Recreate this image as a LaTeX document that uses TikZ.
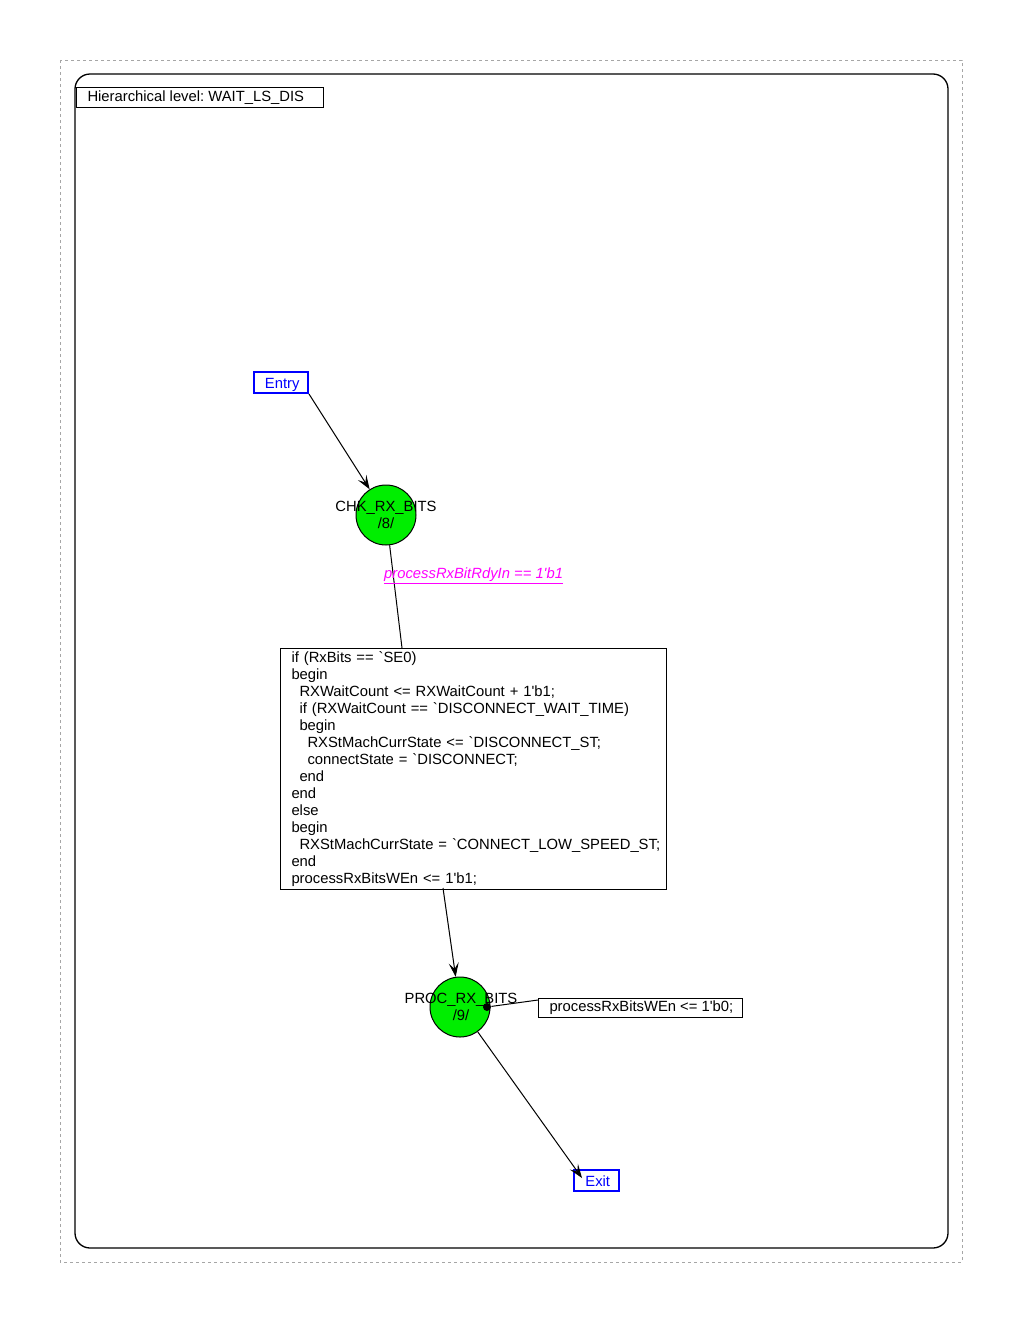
\documentclass[tikz,border=0pt]{standalone}
\usepackage{fontspec}
\usepackage{xcolor}
\usepackage{tikz}
\usetikzlibrary{arrows.meta,calc}
\newfontfamily\diafont{Liberation Sans}
\definecolor{stategreen}{RGB}{0,238,0}
\definecolor{condmagenta}{RGB}{255,0,255}
\definecolor{portblue}{RGB}{0,0,255}

\begin{document}
\frenchspacing
\begin{tikzpicture}[x=1pt, y=-1pt, line width=1pt, font=\diafont\fontsize{14.8}{17}\selectfont,
  >={Stealth[length=14pt,width=10pt,inset=6pt]}]
\useasboundingbox (0,0) rectangle (1020,1320);
\draw [gray!70, dash pattern=on 3pt off 3pt] (60,60) rectangle (962,1262);
\draw [line width=1.3pt, rounded corners=15pt] (75,74) rectangle (948,1248);
\node [draw, anchor=north west, inner xsep=11pt, inner ysep=0pt, minimum height=20pt] (level) at (76,87) {\makebox[225pt][l]{Hierarchical level: WAIT\_LS\_DIS}};

% entry / exit ports
\node [draw=portblue, line width=2pt, text=portblue, minimum width=54pt, minimum height=21pt, inner sep=0pt] (entry) at (281,382.5) {\raisebox{-2pt}[\height][\depth]{\,Entry}};
\node [draw=portblue, line width=2pt, text=portblue, minimum width=45pt, minimum height=21pt, inner sep=0pt] (exit) at (596.5,1180.5) {\raisebox{-1pt}[\height][\depth]{\,Exit}};

% states
\node [circle, draw, fill=stategreen, minimum size=60pt, inner sep=0pt] (chk) at (386,515) {};
\node [align=center] (chklabel) at (386,515) {CHK\_RX\_BITS\\/8/};
\node [circle, draw, fill=stategreen, minimum size=60pt, inner sep=0pt] (proc) at (460,1007) {};
\node [align=center] (proclabel) at (461,1007) {PROC\_RX\_BITS\\/9/};

% action of the transition
\node [draw, anchor=north west, align=left, text width=364pt, inner xsep=11pt, inner ysep=3pt] (act) at (280,648)
  {if (RxBits == `SE0)\\
   begin\\
   \hspace*{8pt}RXWaitCount <= RXWaitCount + 1'b1;\\
   \hspace*{8pt}if (RXWaitCount == `DISCONNECT\_WAIT\_TIME)\\
   \hspace*{8pt}begin\\
   \hspace*{16pt}RXStMachCurrState <= `DISCONNECT\_ST;\\
   \hspace*{16pt}connectState = `DISCONNECT;\\
   \hspace*{8pt}end\\
   end\\
   else\\
   begin\\
   \hspace*{8pt}\mbox{RXStMachCurrState = `CONNECT\_LOW\_SPEED\_ST;}\\
   end\\
   processRxBitsWEn <= 1'b1;};

% entry action of PROC_RX_BITS
\node [draw, anchor=north west, inner xsep=11pt, inner ysep=0pt, minimum height=19pt] (procact) at (538,998) {\makebox[182pt][l]{processRxBitsWEn <= 1'b0;}};
\node [circle, fill, inner sep=0pt, minimum size=8pt] (dot) at (487,1007) {};

\coordinate (acttop) at (402,648);
\coordinate (actbot) at (443,888);
\coordinate (exitpt) at (582,1178);
\coordinate (procactpt) at (538,1000);

\draw [->] (entry.south east) -- (chk);
\draw (chk) -- node [pos=0.3, right=-13pt, text=condmagenta, font=\diafont\itshape\fontsize{14.8}{17}\selectfont] (cond) {\underline{processRxBitRdyIn == 1'b1}} (acttop);
\draw [->] (actbot) -- (proc);
\draw (dot) -- (procactpt);
\draw [->] (proc) -- (exitpt);
\end{tikzpicture}
\end{document}
